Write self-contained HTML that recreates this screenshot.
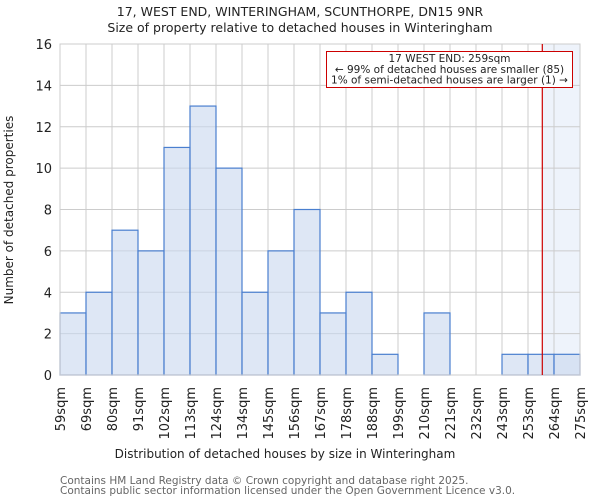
<!DOCTYPE html>
<html><head><meta charset="utf-8"><style>
body{margin:0;background:#fff;font-family:"DejaVu Sans","Liberation Sans",sans-serif;}
</style></head><body>
<svg width="600" height="500" xmlns="http://www.w3.org/2000/svg" font-family="DejaVu Sans, Liberation Sans, sans-serif">
<text x="300" y="16" text-anchor="middle" font-size="12.5" fill="#222">17, WEST END, WINTERINGHAM, SCUNTHORPE, DN15 9NR</text>
<text x="300" y="32" text-anchor="middle" font-size="12.5" fill="#222">Size of property relative to detached houses in Winteringham</text>
<g id="plot"></g>
<text x="285" y="458" text-anchor="middle" font-size="12" fill="#222">Distribution of detached houses by size in Winteringham</text>
<text transform="translate(13,210) rotate(-90)" text-anchor="middle" font-size="12" fill="#222">Number of detached properties</text>
<text x="60" y="484" font-size="10.5" fill="#666">Contains HM Land Registry data © Crown copyright and database right 2025.</text>
<text x="60" y="494" font-size="10.5" fill="#666">Contains public sector information licensed under the Open Government Licence v3.0.</text>
</svg>
<script>
const categories=["59sqm","69sqm","80sqm","91sqm","102sqm","113sqm","124sqm","134sqm","145sqm","156sqm","167sqm","178sqm","188sqm","199sqm","210sqm","221sqm","232sqm","243sqm","253sqm","264sqm","275sqm"];
const counts=[3,4,7,6,11,13,10,4,6,8,3,4,1,0,3,0,0,1,1,1];
const yTicks=[0,2,4,6,8,10,12,14,16];
const propertyBin=18.55;
const NS="http://www.w3.org/2000/svg";
const L=60,R=580,T=44,B=375,yMax=16;
const n=counts.length, bw=(R-L)/n;
const xs=i=>L+i*bw;
const ys=v=>B-(v/yMax)*(B-T);
const g=document.getElementById('plot');
function mk(tag,attrs){const e=document.createElementNS(NS,tag);for(const k in attrs)e.setAttribute(k,attrs[k]);g.appendChild(e);return e;}
const px=xs(propertyBin);
let e=mk('rect',{x:px,y:T,width:R-px,height:B-T,fill:'#eef3fb'});


yTicks.forEach(t=>{
 let l=mk('line',{x1:L,x2:R,y1:ys(t),y2:ys(t),stroke:'#ccc','stroke-width':1});
 
 
 let tx=mk('text',{x:L-8,y:ys(t)+5,'text-anchor':'end','font-size':13,fill:'#222'});
 tx.textContent=t;
 
 
});
categories.forEach((c,i)=>{
 let l=mk('line',{x1:xs(i),x2:xs(i),y1:T,y2:B,stroke:'#ccc','stroke-width':1});
 
 
 let tx=mk('text',{transform:`translate(${xs(i)+5},${B+12}) rotate(-90)`,'text-anchor':'end','font-size':13,fill:'#222'});
 tx.textContent=c;
 
 
});
counts.forEach((v,i)=>{
 if(v<=0)return;
 let r=mk('rect',{x:xs(i),y:ys(v),width:bw,height:B-ys(v),fill:'rgba(200,215,238,0.6)',stroke:'#4a7fcf','stroke-width':1.2});
 
 
});
let bx=mk('rect',{x:L,y:T,width:R-L,height:B-T,fill:'none',stroke:'#ccc'});


let rl=mk('line',{x1:px,x2:px,y1:T,y2:B,stroke:'#cc0000','stroke-width':1.2});


let ab=mk('rect',{x:326.5,y:51.5,width:246,height:36,fill:'#fff',stroke:'#cc0000','stroke-width':1});


[["17 WEST END: 259sqm",62],["← 99% of detached houses are smaller (85)",73],["1% of semi-detached houses are larger (1) →",83.5]].forEach(([s,y])=>{
 let t=mk('text',{x:449.5,y:y,'text-anchor':'middle','font-size':10.5,fill:'#222'});
 t.textContent=s;
 
 
});
</script>
</body></html>
